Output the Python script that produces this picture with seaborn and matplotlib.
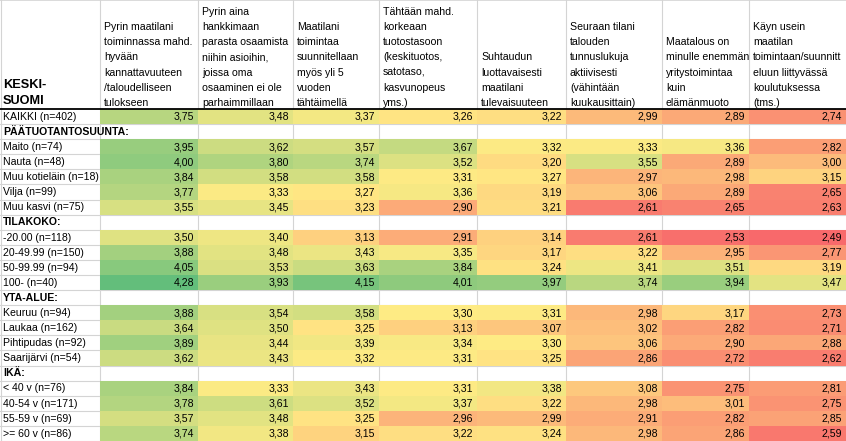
import numpy as np
import pandas as pd
import seaborn as sns
import matplotlib.pyplot as plt
import matplotlib.transforms as mtransforms
from matplotlib.colors import LinearSegmentedColormap, TwoSlopeNorm

# otsikot
corner_title = "KESKI-\nSUOMI"
column_titles = [
    "Pyrin maatilani\ntoiminnassa mahd.\nhyvään\nkannattavuuteen\n/taloudelliseen\ntulokseen",
    "Pyrin aina\nhankkimaan\nparasta osaamista\nniihin asioihin,\njoissa oma\nosaaminen ei ole\nparhaimmillaan",
    "Maatilani\ntoimintaa\nsuunnitellaan\nmyös yli 5\nvuoden\ntähtäimellä",
    "Tähtään mahd.\nkorkeaan\ntuotostasoon\n(keskituotos,\nsatotaso,\nkasvunopeus\nyms.)",
    "Suhtaudun\nluottavaisesti\nmaatilani\ntulevaisuuteen",
    "Seuraan tilani\ntalouden\ntunnuslukuja\naktiivisesti\n(vähintään\nkuukausittain)",
    "Maatalous on\nminulle enemmän\nyritystoimintaa\nkuin\nelämänmuoto",
    "Käyn usein\nmaatilan\ntoimintaan/suunnitt\neluun liittyvässä\nkoulutuksessa\n(tms.)",
]

# data
total_label = "KAIKKI (n=402)"
total_vals = [3.75, 3.48, 3.37, 3.26, 3.22, 2.99, 2.89, 2.74]

production_title = "PÄÄTUOTANTOSUUNTA:"
production_labels = ["Maito (n=74)", "Nauta (n=48)", "Muu kotieläin (n=18)", "Vilja (n=99)", "Muu kasvi (n=75)"]
production_vals = [
    [3.95, 3.62, 3.57, 3.67, 3.32, 3.33, 3.36, 2.82],
    [4.00, 3.80, 3.74, 3.52, 3.20, 3.55, 2.89, 3.00],
    [3.84, 3.58, 3.58, 3.31, 3.27, 2.97, 2.98, 3.15],
    [3.77, 3.33, 3.27, 3.36, 3.19, 3.06, 2.89, 2.65],
    [3.55, 3.45, 3.23, 2.90, 3.21, 2.61, 2.65, 2.63],
]

size_title = "TILAKOKO:"
size_labels = ["-20.00 (n=118)", "20-49.99 (n=150)", "50-99.99 (n=94)", "100- (n=40)"]
size_vals = [
    [3.50, 3.40, 3.13, 2.91, 3.14, 2.61, 2.53, 2.49],
    [3.88, 3.48, 3.43, 3.35, 3.17, 3.22, 2.95, 2.77],
    [4.05, 3.53, 3.63, 3.84, 3.24, 3.41, 3.51, 3.19],
    [4.28, 3.93, 4.15, 4.01, 3.97, 3.74, 3.94, 3.47],
]

area_title = "YTA-ALUE:"
area_labels = ["Keuruu (n=94)", "Laukaa (n=162)", "Pihtipudas (n=92)", "Saarijärvi (n=54)"]
area_vals = [
    [3.88, 3.54, 3.58, 3.30, 3.31, 2.98, 3.17, 2.73],
    [3.64, 3.50, 3.25, 3.13, 3.07, 3.02, 2.82, 2.71],
    [3.89, 3.44, 3.39, 3.34, 3.30, 3.06, 2.90, 2.88],
    [3.62, 3.43, 3.32, 3.31, 3.25, 2.86, 2.72, 2.62],
]

age_title = "IKÄ:"
age_labels = ["< 40 v (n=76)", "40-54 v (n=171)", "55-59 v (n=69)", ">= 60 v (n=86)"]
age_vals = [
    [3.84, 3.33, 3.43, 3.31, 3.38, 3.08, 2.75, 2.81],
    [3.78, 3.61, 3.52, 3.37, 3.22, 2.98, 3.01, 2.75],
    [3.57, 3.48, 3.25, 2.96, 2.99, 2.91, 2.82, 2.85],
    [3.74, 3.38, 3.15, 3.22, 3.24, 2.98, 2.86, 2.59],
]

# taulukon kokoaminen (ryhmäotsikot = tyhjät rivit)
row_labels = [total_label]
rows = [total_vals]
bold_rows = []
for title, labels, vals in [(production_title, production_labels, production_vals),
                            (size_title, size_labels, size_vals),
                            (area_title, area_labels, area_vals),
                            (age_title, age_labels, age_vals)]:
    bold_rows.append(len(rows))
    row_labels.append(title)
    rows.append([np.nan] * len(column_titles))
    row_labels.extend(labels)
    rows.extend(vals)
df = pd.DataFrame(rows, index=row_labels, columns=range(len(column_titles)))
n_rows = len(df)

# asettelu (pikseleinä)
W, H = 846, 441
header_px = 109
col_edges_px = [0, 100, 198, 293, 379, 477, 566, 662, 749, 846]
row_h = (H - header_px) / n_rows
col_idx = np.arange(-1, len(column_titles) + 1)

plt.rcParams['font.family'] = ['Liberation Sans', 'DejaVu Sans']
fs = 7.6
grid_col = '#d4d4d4'

fig = plt.figure(figsize=(W / 100, H / 100), dpi=100)
ax = fig.add_axes([0, 0, 1, 1])

# Excelin 3-värinen asteikko
cmap = LinearSegmentedColormap.from_list('ryg', ['#F8696B', '#FFEB84', '#63BE7B'])
allv = df.values[~np.isnan(df.values)]
norm = TwoSlopeNorm(vmin=allv.min(), vcenter=np.median(allv), vmax=allv.max())

sns.heatmap(df, ax=ax, cmap=cmap, norm=norm, cbar=False,
            xticklabels=False, yticklabels=False, linewidths=0)
ax.collections[0].set_zorder(1)

ax.set_xscale('function', functions=(lambda x: np.interp(x, col_idx, col_edges_px),
                                     lambda p: np.interp(p, col_edges_px, col_idx)))
ax.set_xlim(-1, len(column_titles))
top = -header_px / row_h
ax.set_ylim(n_rows, top)
ax.axis('off')

# ruudukko
for y in range(1, n_rows + 1):
    ax.plot([-1, len(column_titles)], [y, y], color=grid_col, lw=0.8, zorder=0)
for x in col_idx[1:-1]:
    ax.plot([x, x], [top, n_rows], color=grid_col, lw=0.8, zorder=0)
ax.plot([-1, len(column_titles)], [top + 0.03, top + 0.03], color=grid_col, lw=1.2, zorder=0)
ax.plot([-0.995, -0.995], [top, n_rows], color=grid_col, lw=0.8, zorder=0)
ax.plot([-1, len(column_titles)], [0, 0], color='black', lw=1.3, zorder=3)

px = lambda dx, dy: mtransforms.offset_copy(ax.transData, fig=fig, x=dx, y=dy, units='dots')

# otsikkorivi
ax.text(-1, -0.1, corner_title, transform=px(3, 0), ha='left', va='bottom',
        fontsize=9.2, fontweight='bold', linespacing=1.45)
for j, t in enumerate(column_titles):
    ax.text(j, -0.08, t, transform=px(4, 0), ha='left', va='bottom',
            fontsize=fs, linespacing=1.64)

# rivien nimet ja arvot
for i, lab in enumerate(row_labels):
    ax.text(-1, i + 0.52, lab, transform=px(3, 0), ha='left', va='center', fontsize=fs,
            fontweight='bold' if i in bold_rows else 'normal', zorder=4)
    for j in range(len(column_titles)):
        v = df.iat[i, j]
        if np.isnan(v):
            continue
        ax.text(j + 1, i + 0.52, f"{v:.2f}".replace('.', ','), transform=px(-4, 0),
                ha='right', va='center', fontsize=fs, zorder=4)

fig.savefig('out.png', dpi=100)
